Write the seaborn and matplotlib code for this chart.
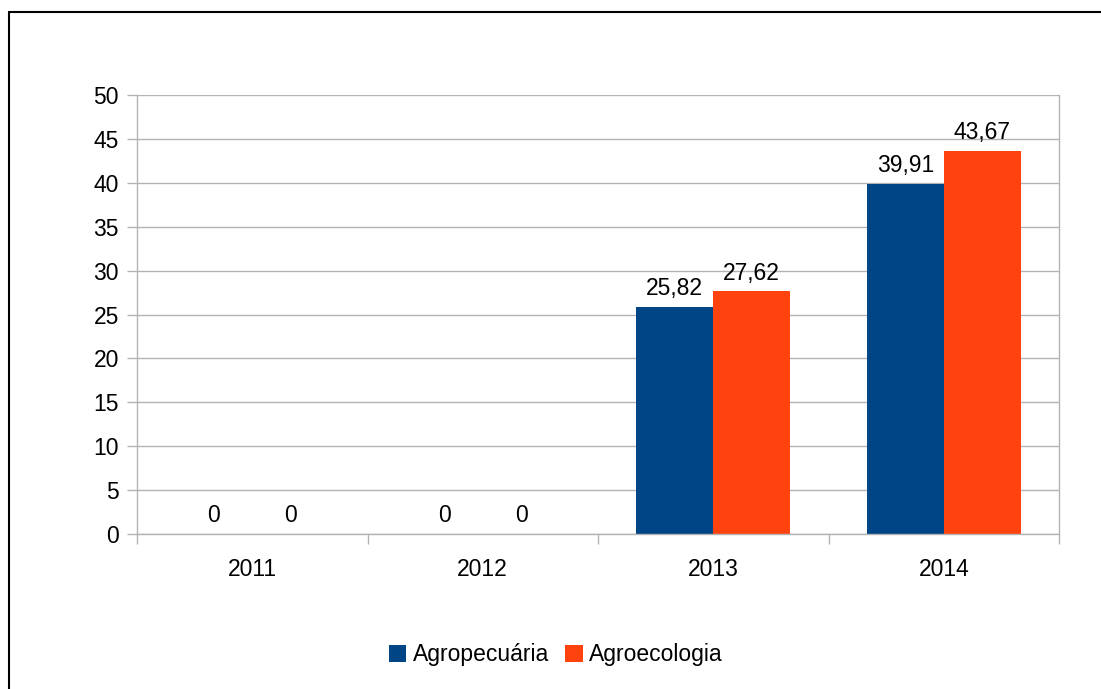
import pandas as pd
import matplotlib.pyplot as plt
import seaborn as sns
from matplotlib.lines import Line2D
from matplotlib.ticker import FixedLocator

# chart values
years = ['2011', '2012', '2013', '2014']
agropecuaria = [0, 0, 25.82, 39.91]
agroecologia = [0, 0, 27.62, 43.67]
series_names = ['Agropecuária', 'Agroecologia']
colors = ['#004586', '#ff420e']

data = pd.DataFrame({
    'ano': years * 2,
    'valor': agropecuaria + agroecologia,
    'serie': [series_names[0]] * 4 + [series_names[1]] * 4,
})

sns.set_style('white')
plt.rcParams['font.family'] = ['Liberation Sans', 'DejaVu Sans']
plt.rcParams['text.color'] = 'black'
plt.rcParams['xtick.color'] = 'black'
plt.rcParams['ytick.color'] = 'black'

fs = 16.5

fig = plt.figure(figsize=(11.01, 6.89), dpi=100)
ax = fig.add_axes([137 / 1101, 1 - 534 / 689, (1059 - 137) / 1101, (534 - 95) / 689])

sns.barplot(data=data, x='ano', y='valor', hue='serie', palette=colors,
            width=2 / 3, gap=0, saturation=1, linewidth=0, ax=ax, legend=True)

# data labels with comma decimals
for cont in ax.containers:
    labels = [f'{v:.2f}'.replace('.', ',') if v != 0 else '0' for v in cont.datavalues]
    ax.bar_label(cont, labels=labels, padding=5, fontsize=fs, color='black')

ax.set_xlim(-0.5, 3.5)
ax.set_ylim(0, 50)
ax.set_yticks(range(0, 51, 5))
ax.yaxis.grid(True, color='#b3b3b3', linewidth=1)
ax.set_axisbelow(True)
ax.set_xlabel('')
ax.set_ylabel('')

for s in ['left', 'right', 'bottom']:
    ax.spines[s].set_color('#b3b3b3')
    ax.spines[s].set_linewidth(1)
ax.spines['top'].set_visible(False)

ax.tick_params(axis='y', length=7, width=1, color='#b3b3b3', labelcolor='black',
               labelsize=fs, pad=6, left=True)
ax.tick_params(axis='x', which='major', length=0, labelsize=fs, labelcolor='black', pad=17)
ax.xaxis.set_minor_locator(FixedLocator([-0.5, 0.5, 1.5, 2.5, 3.5]))
ax.tick_params(axis='x', which='minor', length=7, width=1, color='#b3b3b3', bottom=True)

handles, labs = ax.get_legend_handles_labels()
ax.get_legend().remove()
fig.legend(handles, labs, loc='center', bbox_to_anchor=(0.505, 1 - 655 / 689), ncol=2,
           frameon=False, fontsize=fs, handlelength=0.75, handleheight=0.75,
           handletextpad=0.3, columnspacing=0.7)

# outer frame (left and top edges visible)
fig.add_artist(Line2D([9 / 1101, 9 / 1101], [0, 1 - 12 / 689], color='black', linewidth=1.5,
                      transform=fig.transFigure))
fig.add_artist(Line2D([9 / 1101, 1], [1 - 12 / 689, 1 - 12 / 689], color='black', linewidth=1.5,
                      transform=fig.transFigure))

fig.savefig('out.png', dpi=100)
